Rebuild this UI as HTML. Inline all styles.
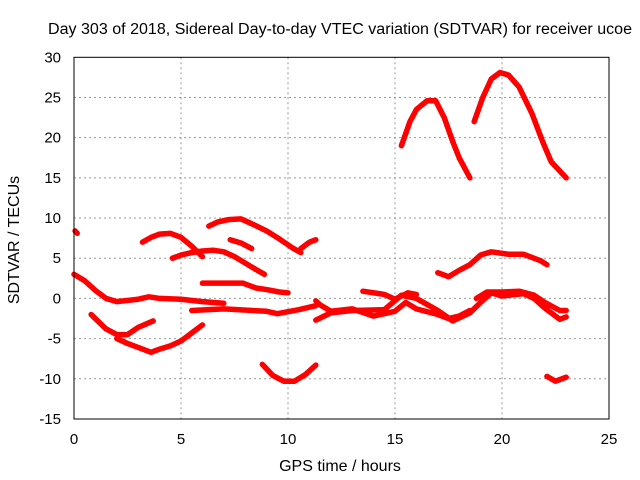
<!DOCTYPE html>
<html><head><meta charset="utf-8"><style>
body{margin:0;background:#fff}
svg{display:block;font-family:"Liberation Sans",sans-serif;font-size:15px}
</style></head><body>
<svg id="chart" width="640" height="480">
<rect width="640" height="480" fill="#fff"/>
<text x="340" y="34" text-anchor="middle" font-size="15.5" textLength="584" lengthAdjust="spacingAndGlyphs">Day 303 of 2018, Sidereal Day-to-day VTEC variation (SDTVAR) for receiver ucoe</text>
<g id="grid"></g>
<g id="ticks"></g>
<g id="series"></g>
<rect x="74" y="57.3" width="535" height="361.7" fill="none" stroke="#000" stroke-width="1"/>
<text x="340" y="471" text-anchor="middle" font-size="16">GPS time / hours</text>
<text transform="translate(19,240) rotate(-90)" text-anchor="middle" font-size="16">SDTVAR / TECUs</text>
</svg>
<script>
const xTicks=[0,5,10,15,20,25];
const yTicks=[-15,-10,-5,0,5,10,15,20,25,30];
const s1=[[15.3,19],[15.7,22],[16.0,23.5],[16.5,24.6],[16.9,24.6],[17.3,22.5],[17.7,19.5],[18.0,17.5],[18.5,15]];
const s2=[[18.7,22],[19.1,25],[19.5,27.3],[19.9,28.1],[20.3,27.8],[20.8,26.3],[21.4,23],[21.9,19.5],[22.3,17],[23,15]];
const s3=[[0,3],[0.5,2.2],[1,1],[1.5,0],[2,-0.4],[3,-0.1],[3.5,0.2],[4,0],[5,-0.1],[6,-0.4],[7,-0.6]];
const s4=[[5.5,-1.5],[7,-1.3],[9,-1.6],[9.5,-1.9],[10.5,-1.4],[11.3,-0.9]];
const s5=[[0.8,-2],[1.5,-3.8],[2,-4.5],[2.5,-4.5],[3,-3.6],[3.7,-2.8]];
const s6=[[2,-5],[2.5,-5.6],[3,-6.1],[3.6,-6.7],[4,-6.3],[4.5,-5.9],[5,-5.3],[5.5,-4.3],[6,-3.3]];
const s7=[[3.2,7],[3.6,7.6],[4,8],[4.5,8.1],[5,7.6],[5.5,6.5],[6,5.2]];
const s8=[[4.6,5],[5,5.4],[5.5,5.7],[6,5.9],[6.5,6],[7,5.8],[7.5,5.2],[8,4.4],[8.5,3.6],[8.9,3]];
const s9=[[6.3,9],[6.7,9.5],[7.2,9.8],[7.8,9.9],[8.3,9.3],[9,8.4],[9.6,7.4],[10.2,6.3],[10.6,5.7]];
const s9b=[[10.6,6.2],[11,7],[11.3,7.3]];
const s10=[[7.3,7.3],[7.8,6.9],[8.3,6.2]];
const s11=[[6.0,1.9],[7,1.9],[7.9,1.9],[8.5,1.3],[9,1.1],[9.6,0.8],[10,0.7]];
const s12=[[8.8,-8.2],[9.3,-9.6],[9.8,-10.3],[10.3,-10.3],[10.8,-9.5],[11.3,-8.3]];
const s13=[[0.05,8.4],[0.15,8.1]];
const s14=[[11.3,-0.3],[11.5,-0.8],[12,-1.6],[13,-1.3],[14,-2.2],[15,-1.6],[15.5,-0.5],[16,-1.3],[17,-2],[17.5,-2.5],[18,-2.2],[18.5,-1.5]];
const s15=[[11.3,-2.7],[12,-1.8],[13,-1.5],[14.5,-1.4],[15.3,0.4],[16,0],[17,-1.5],[17.7,-2.8],[18.5,-1.8],[19,-0.5],[19.5,0.7],[20,0.3],[21,0.6],[21.5,0],[22,-1.2],[22.7,-2.6],[23,-2.3]];
const s16=[[13.5,0.9],[14.5,0.5],[15,-0.1],[15.6,0.7],[16,0.5]];
const s17=[[18.8,0],[19.3,0.8],[20,0.8],[20.8,0.9],[21.5,0.4],[22,-0.5],[22.7,-1.5],[23,-1.5]];
const s18=[[17,3.2],[17.5,2.7],[18,3.5],[18.5,4.2],[19,5.4],[19.5,5.8],[20.3,5.5],[21,5.5],[21.8,4.7],[22.1,4.2]];
const s19=[[22.1,-9.7],[22.5,-10.3],[23,-9.8]];
const allSeries=[s1,s2,s3,s4,s5,s6,s7,s8,s9,s9b,s10,s11,s12,s13,s14,s15,s16,s17,s18,s19];

const X0=74,X1=609,Y0=419,Y1=57.3;
function xs(v){return X0+(v-0)/(25-0)*(X1-X0);}
function ys(v){return Y0-(v+15)/(45)*(Y0-Y1);}
const NS="http://www.w3.org/2000/svg";
const grid=document.getElementById('grid'),ticks=document.getElementById('ticks'),ser=document.getElementById('series');
function mk(t,a,p){const e=document.createElementNS(NS,t);for(const k in a)e.setAttribute(k,a[k]);p.appendChild(e);return e;}
xTicks.forEach(t=>{
 const x=xs(t);
 if(t>0&&t<25){const g=mk('line',{x1:x,x2:x,y1:Y1,y2:Y0,stroke:'#999','stroke-dasharray':'2,3','stroke-width':1},grid);
 
 }
 const l=mk('text',{x:x,y:444,'text-anchor':'middle'},ticks);l.textContent=t;
 
 
});
yTicks.forEach(t=>{
 const y=ys(t);
 if(t>-15&&t<30){const g=mk('line',{x1:X0,x2:X1,y1:y,y2:y,stroke:'#999','stroke-dasharray':'2,3','stroke-width':1},grid);
 
 }
 const l=mk('text',{x:61,y:y+5,'text-anchor':'end'},ticks);l.textContent=t;
 
 
});
allSeries.forEach((s,i)=>{
 const p=mk('polyline',{points:s.map(d=>xs(d[0])+','+ys(d[1])).join(' '),fill:'none',stroke:'#f00','stroke-width':5.5,'stroke-linejoin':'round','stroke-linecap':'round'},ser);
 
 
});
</script>
</body></html>
